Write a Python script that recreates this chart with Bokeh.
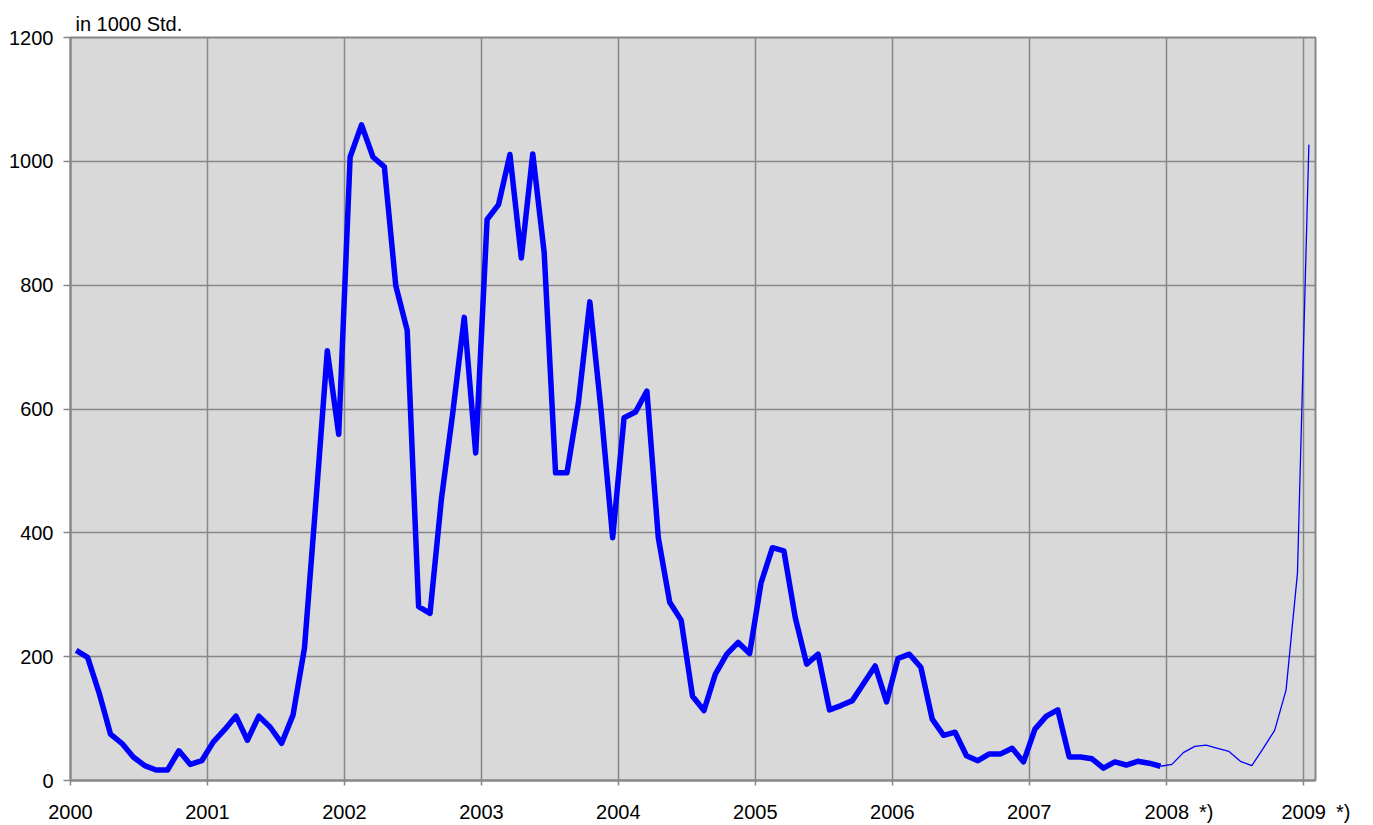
from bokeh.plotting import figure
from bokeh.models import ColumnDataSource, FixedTicker, Range1d
from bokeh.embed import file_html
from bokeh.resources import INLINE

# ---- data (in 1000 Std., monthly) ----
years = [2000, 2001, 2002, 2003, 2004, 2005, 2006, 2007, 2008, 2009]
tick_labels = ["2000", "2001", "2002", "2003", "2004", "2005", "2006", "2007", "2008", "2009"]
provisional_years = [2008, 2009]          # marked with *)
y_ticks = [0, 200, 400, 600, 800, 1000, 1200]
unit_label = "in 1000 Std."
mark = "*)"

v2000 = [210, 199, 142, 75, 60, 38, 24, 17, 17, 48, 26, 32]
v2001 = [62, 82, 104, 65, 104, 86, 60, 106, 214, 450, 694, 559]
v2002 = [1007, 1059, 1007, 991, 799, 727, 281, 270, 455, 595, 748, 529]
v2003 = [906, 930, 1011, 844, 1012, 853, 497, 497, 610, 773, 595, 392]
v2004 = [586, 595, 629, 392, 288, 259, 136, 113, 172, 204, 223, 205]
v2005 = [319, 376, 371, 263, 188, 204, 114, 121, 129, 157, 185, 127]
v2006 = [197, 204, 183, 99, 73, 78, 40, 32, 43, 43, 52, 30]
v2007 = [83, 104, 114, 38, 38, 35, 20, 30, 25, 31, 28, 23]
# provisional values *) : Dec 2007 .. Jan 2009
v2008_prov = [23, 26, 45, 55, 57, 52, 47, 31, 24, 52, 81, 146, 335, 1027]

thick = v2000 + v2001 + v2002 + v2003 + v2004 + v2005 + v2006 + v2007
x_thick = [2000 + (i + 0.5) / 12 for i in range(len(thick))]
x_thin = [2000 + (len(thick) - 1 + i + 0.5) / 12 for i in range(len(v2008_prov))]

src_thick = ColumnDataSource(dict(x=x_thick, y=thick))
src_thin = ColumnDataSource(dict(x=x_thin, y=v2008_prov))

FONT = "Liberation Sans"
GRID = "#878787"

p = figure(width=1365, height=825, output_backend="svg", toolbar_location=None,
           x_range=Range1d(2000, 2009.09), y_range=Range1d(0, 1200),
           min_border_left=70, min_border_right=50, min_border_top=37, min_border_bottom=45)

p.title.text = unit_label
p.title.text_font = FONT
p.title.text_font_size = "20px"
p.title.text_font_style = "normal"
p.title.text_color = "black"
p.title.align = "left"
p.title.offset = 5
p.title.standoff = 6

p.background_fill_color = "#D9D9D9"
p.border_fill_color = "white"
p.outline_line_color = GRID
p.outline_line_width = 2

# label text: provisional years get the "*)" mark to the right, padded on the
# left with the same width so that the year stays centred on its tick
PAD_L = "\u2002\u2002\u2008"
GAP = "\u2002"
overrides = {}
for y, t in zip(years, tick_labels):
    overrides[y] = (PAD_L + t + GAP + mark) if y in provisional_years else t

p.xaxis.ticker = FixedTicker(ticks=years)
p.xaxis.major_label_overrides = overrides
p.yaxis.ticker = FixedTicker(ticks=y_ticks)

for ax in (p.xaxis[0], p.yaxis[0]):
    ax.axis_line_color = GRID
    ax.axis_line_width = 2
    ax.major_tick_line_color = GRID
    ax.major_tick_line_width = 1.5
    ax.major_tick_in = 0
    ax.minor_tick_line_color = None
    ax.major_label_text_font = FONT
    ax.major_label_text_font_size = "20px"
    ax.major_label_text_color = "black"

p.yaxis.major_tick_out = 7
p.yaxis.major_label_standoff = 10
p.xaxis.major_tick_out = 5
p.xaxis.major_label_standoff = 15

p.xgrid.grid_line_color = GRID
p.xgrid.grid_line_width = 1.5
p.ygrid.grid_line_color = GRID
p.ygrid.grid_line_width = 1.5

p.line("x", "y", source=src_thin, line_color="#0000FF", line_width=1.3)
p.line("x", "y", source=src_thick, line_color="#0000FF", line_width=5.5, line_join="round")

open("out.html", "w").write(file_html(p, INLINE))
